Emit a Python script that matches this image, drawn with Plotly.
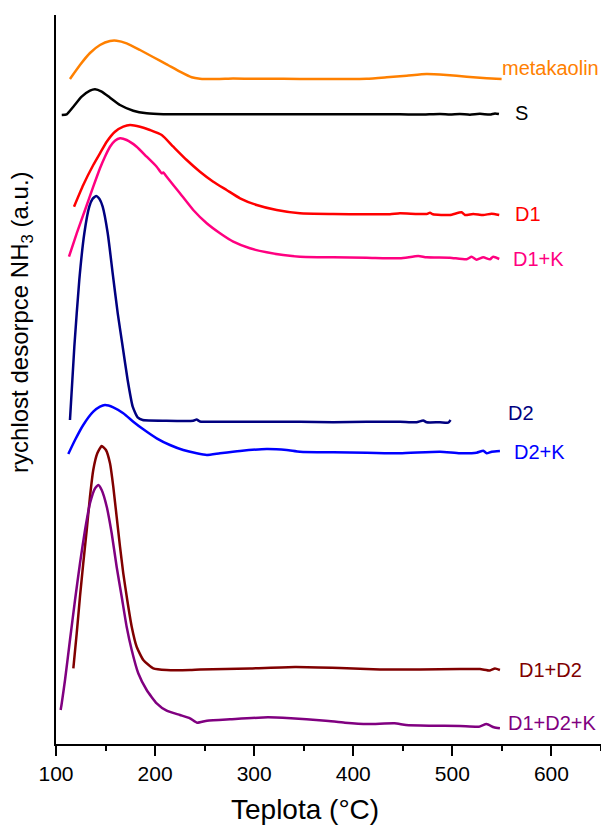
import plotly.graph_objects as go

# NH3-TPD desorption rate curves (vertically stacked, arbitrary units)
names = ["metakaolin", "S", "D1", "D1+K", "D2", "D2+K", "D1+D2", "D1+D2+K"]
colors = ["#FF8000", "#000000", "#FF0000", "#FF0080",
          "#000080", "#0000FF", "#800000", "#800080"]

t_metakaolin = [114.1, 124.2, 134.3, 144.4, 154.5, 161.2, 171.3, 184.8, 197.9, 211.7,
                225.1, 236.9, 245.3, 262.1, 278.6, 295.7, 312.6, 346.2, 379.5, 413.5,
                433.7, 453.9, 474.0, 494.2, 514.4, 534.6, 549.7]
r_metakaolin = [665, 679, 691, 699, 703, 703.3, 700.7, 694, 687, 679.7,
                672.3, 666.7, 665.3, 665, 665.5, 665.3, 665.3, 665, 665, 665.3,
                666.7, 668.3, 670, 669, 667.3, 665.7, 665]

t_s = [105.8, 110.8, 117.5, 125.9, 134.3, 139.4, 146.1, 154.5, 164.6, 178.0,
       191.5, 208.3, 245.3, 346.2, 447.1, 467.3, 487.5, 497.6, 507.6, 517.7,
       527.8, 537.9, 543.0, 547.0]
r_s = [629, 629.7, 637.3, 647.3, 653.3, 654.7, 652.3, 646.3, 639, 633.3,
       630.7, 629.7, 629.7, 629.8, 629.7, 629.4, 630.1, 629.5, 630.0, 629.3,
       630.2, 629.4, 630.6, 630]

t_d1 = [118.2, 127.5, 137.6, 144.4, 151.2, 159.5, 167.9, 174.7, 184.8, 194.8,
        206.7, 218.4, 231.9, 245.3, 258.7, 272.2, 285.7, 302.5, 322.7, 346.2,
        379.5, 413.5, 437.0, 447.1, 474.0, 477.4, 480.4, 497.5, 509.3, 512.7,
        521.1, 531.1, 539.6, 547.3]
r_d1 = [537.3, 559, 579, 590.7, 602.3, 612.3, 617.3, 619, 617.3, 614,
        609, 597.3, 584, 572.3, 562.3, 554, 545.7, 539, 534, 530.7,
        530, 529.7, 529.7, 530.7, 530, 531.3, 529.7, 529, 531.7, 529,
        530, 529, 530.3, 529]

t_d1k = [113.1, 120.9, 129.3, 137.6, 144.4, 149.4, 154.5, 159.5, 164.6, 171.3,
         181.4, 191.5, 201.6, 206.7, 208.3, 211.7, 225.1, 238.5, 252.1, 265.5,
         278.9, 295.7, 312.6, 329.3, 346.2, 379.8, 413.5, 447.1, 465.6, 474.0,
         497.5, 514.4, 519.4, 524.5, 531.2, 537.9, 541.2, 547.3]
r_d1k = [487.3, 510.7, 534, 557.3, 575.7, 587.3, 597.3, 603.3, 605.7, 604,
         597.3, 587.3, 577.3, 570.7, 571.5, 567.3, 550.7, 534, 520.7, 510.7,
         502.3, 495.7, 491.7, 489, 487.3, 486.7, 486.3, 485.7, 488, 486.7,
         486.3, 484.7, 487.3, 484.3, 486.7, 484.7, 487.3, 485]

t_d2 = [114.1, 118.5, 123.5, 128.6, 133.6, 136.8, 140.4, 143.9, 147.1, 152.2,
        157.2, 162.3, 167.3, 172.3, 177.4, 182.4, 187.5, 211.0, 238.5, 241.9,
        245.3, 278.9, 346.2, 379.8, 413.5, 447.1, 463.9, 470.6, 474.0, 487.5,
        495.8, 498.2]
r_d2 = [324, 397.3, 464, 510.7, 537.3, 545, 548, 545, 537.3, 510.7,
        470.7, 430.7, 397.3, 364, 337.3, 326.7, 324, 323.3, 323.3, 324.5,
        322.5, 322.3, 322.3, 321.7, 322.3, 322.3, 321.7, 323.5, 321.7, 321.7,
        321.3, 324]

t_d2k = [112.4, 119.2, 127.5, 137.6, 144.4, 149.4, 157.8, 167.9, 178.0, 188.1,
         201.6, 215.0, 228.4, 242.0, 252.1, 265.5, 285.7, 312.6, 332.8, 346.2,
         379.8, 413.5, 447.1, 487.5, 507.6, 524.5, 531.2, 534.6, 539.7, 548.0]
r_d2k = [290, 304, 319, 332.3, 337.3, 339, 336.7, 330.7, 322.3, 314.7,
         305.7, 299, 294, 290.7, 289, 290.7, 293, 295, 294, 292.3,
         291.7, 291.3, 290.7, 292.3, 290.7, 291.3, 293.3, 290.7, 292.3, 293]

t_d1d2 = [117.5, 120.9, 124.2, 127.5, 131.0, 134.3, 137.6, 141.7, 146.1, 150.4,
          154.5, 157.8, 161.2, 164.6, 167.9, 171.9, 176.4, 181.4, 188.1, 198.2,
          211.7, 235.2, 245.3, 295.7, 341.2, 386.6, 426.9, 467.3, 507.6, 527.8,
          537.9, 543.0, 548.0]
r_d1d2 = [75.7, 110.7, 147.3, 180.7, 214, 247.3, 274, 290.7, 298, 294,
          280.7, 257.3, 227.3, 197.3, 170.7, 144, 117.3, 97.3, 84, 75.7,
          74, 74, 74.5, 75.5, 77, 76, 74.5, 74.5, 75, 75,
          73.5, 75.5, 74]

t_d1d2k = [104.7, 105.8, 109.1, 114.1, 119.2, 124.2, 129.3, 134.3, 139.4, 142.7,
           146.1, 151.2, 156.2, 161.2, 166.3, 171.3, 176.4, 183.0, 191.5, 201.6,
           211.7, 225.1, 235.2, 242.3, 252.4, 275.6, 313.9, 337.1, 352.8, 372.1,
           391.6, 414.8, 441.6, 453.2, 476.4, 507.6, 526.8, 534.5, 541.9, 548.0]
r_d1d2k = [34, 40.7, 64, 104, 144, 180.7, 214, 240.7, 255.7, 259,
           254, 237.3, 210.7, 177.3, 147.3, 117.3, 94, 70.7, 54, 40.7,
           33.3, 29, 25.7, 21.3, 23.3, 24.7, 26.7, 25.7, 24.7, 23.3,
           21.3, 20, 20.7, 19, 18.3, 18, 17.3, 20, 16.7, 15.7]

# label anchor points (left edge, vertical centre) next to each curve
label_t = [548.0, 561.1, 561.1, 559.1, 554.0, 560.1, 565.1, 554.0]
label_r = [676, 631, 530, 485, 331, 292, 74, 21]

xs = [t_metakaolin, t_s, t_d1, t_d1k, t_d2, t_d2k, t_d1d2, t_d1d2k]
ys = [r_metakaolin, r_s, r_d1, r_d1k, r_d2, r_d2k, r_d1d2, r_d1d2k]

font_family = "Liberation Sans, Arial, sans-serif"

fig = go.Figure()
for name, color, x, y in zip(names, colors, xs, ys):
    fig.add_trace(go.Scatter(
        x=x, y=y, mode="lines", name=name,
        line=dict(color=color, width=2.5, shape="spline", smoothing=0.5),
        showlegend=False,
    ))

annotations = []
for name, color, lx, ly in zip(names, colors, label_t, label_r):
    annotations.append(dict(
        x=lx, y=ly, xref="x", yref="y", text=name, showarrow=False,
        xanchor="left", yanchor="middle",
        font=dict(family=font_family, size=20, color=color),
    ))

# axis titles
annotations.append(dict(
    x=0.457, y=-0.0905, xref="paper", yref="paper", text="Teplota (°C)",
    showarrow=False, xanchor="center", yanchor="middle",
    font=dict(family=font_family, size=28, color="#000000"),
))
annotations.append(dict(
    x=-0.0624, y=0.579, xref="paper", yref="paper",
    text="rychlost desorpce NH<sub>3</sub> (a.u.)", textangle=-90,
    showarrow=False, xanchor="center", yanchor="middle",
    font=dict(family=font_family, size=24, color="#000000"),
))

fig.update_layout(
    width=601, height=827,
    margin=dict(l=56, r=0, t=15, b=83),
    paper_bgcolor="white", plot_bgcolor="white",
    font=dict(family=font_family, color="#000000"),
    annotations=annotations,
    xaxis=dict(
        range=[100, 650], tickvals=[100, 200, 300, 400, 500, 600],
        ticks="outside", ticklen=10, tickwidth=2, tickcolor="#000000",
        showline=True, linewidth=2, linecolor="#000000",
        showgrid=False, zeroline=False,
        tickfont=dict(family=font_family, size=21, color="#000000"),
        minor=dict(ticks="outside", ticklen=5, tickwidth=2, dtick=50,
                   tick0=0, tickcolor="#000000", showgrid=False),
    ),
    xaxis2=dict(
        range=[100, 650], overlaying="x", side="top",
        tickvals=[100, 200, 300, 400, 500, 600], showticklabels=False,
        ticks="outside", ticklen=3, tickwidth=2, tickcolor="#000000",
        showline=True, linewidth=2, linecolor="#000000",
        showgrid=False, zeroline=False,
        minor=dict(ticks="outside", ticklen=3, tickwidth=2, dtick=50,
                   tick0=0, tickcolor="#000000", showgrid=False),
    ),
    yaxis=dict(
        range=[0, 729], showticklabels=False, ticks="",
        showline=True, linewidth=2, linecolor="#000000",
        showgrid=False, zeroline=False,
    ),
)

fig.write_html("out.html")
